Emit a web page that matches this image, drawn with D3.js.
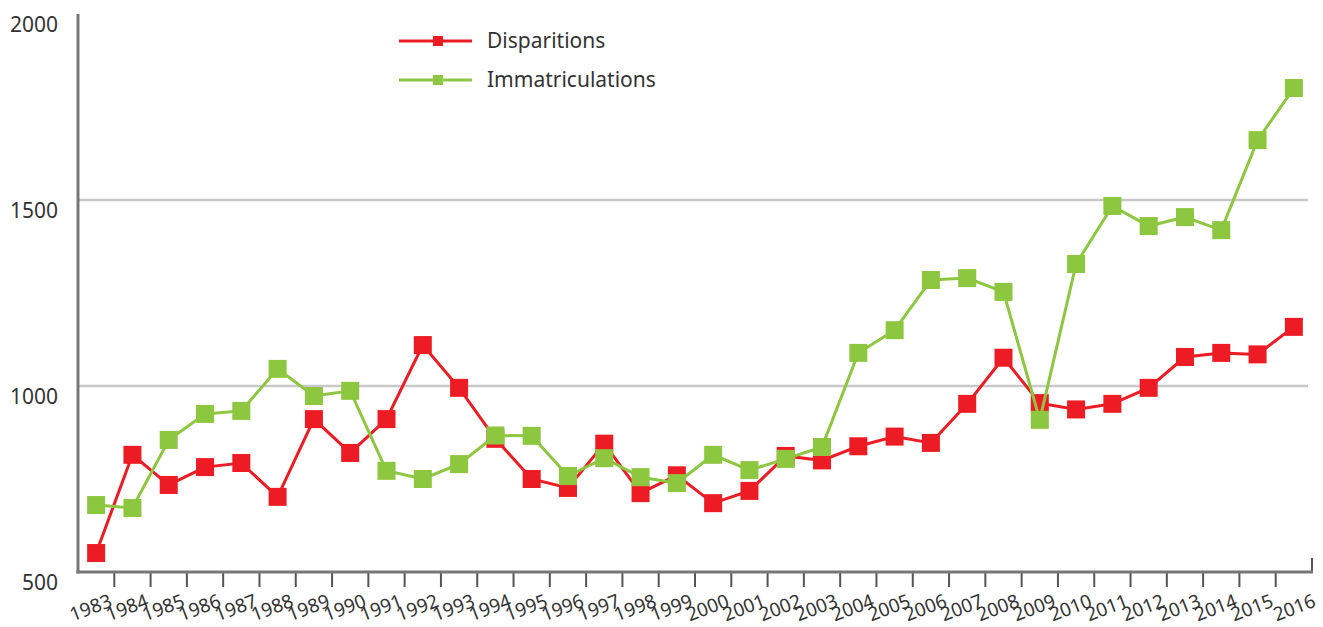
<!DOCTYPE html>
<html>
<head>
<meta charset="utf-8">
<script src="https://cdn.jsdelivr.net/npm/d3@7"></script>
<style>
  body { margin: 0; background: #fff; }
  svg { display: block; font-family: "Noto Sans", "Open Sans", sans-serif; }
</style>
</head>
<body>
<div id="chart-container"></div>
<script>
// Years on the x axis
const years = d3.range(1983, 2017).map(String);

// Series values
const disparitions = [551, 815, 734, 782, 793, 702, 911, 820, 911, 1110, 995, 858, 750, 726, 845, 712, 760, 685, 718, 812, 800, 838, 864, 847, 952, 1076, 954, 937, 952, 995, 1078, 1089, 1085, 1159];
const immatriculations = [680, 672, 855, 925, 933, 1046, 973, 987, 772, 750, 790, 867, 866, 758, 806, 755, 739, 815, 774, 804, 836, 1089, 1150, 1285, 1290, 1253, 909, 1328, 1484, 1430, 1454, 1419, 1661, 1801];

const yTicks = [500, 1000, 1500, 2000];
const gridValues = [1000, 1500];

const seriesNames = ["Disparitions", "Immatriculations"];
const seriesColors = ["#ed1c24", "#8dc63f"];

const W = 1323, H = 627;
const margin = { left: 78, right: 1312, top: 14, bottom: 572 };

const svg = d3.select("#chart-container")
  .append("svg")
  .attr("width", W)
  .attr("height", H);

const x = d3.scaleBand()
  .domain(years)
  .range([margin.left, margin.right]);

const y = d3.scaleLinear()
  .domain([500, 2000])
  .range([margin.bottom, margin.top]);

// Horizontal gridlines
svg.selectAll(".grid")
  .data(gridValues)
  .join("line")
  .attr("x1", margin.left)
  .attr("x2", margin.right - 4)
  .attr("y1", d => y(d))
  .attr("y2", d => y(d))
  .attr("stroke", "#c8c8c8")
  .attr("stroke-width", 2.5);

// Y axis labels (sit a little below their value)
svg.selectAll(".ylab")
  .data(yTicks)
  .join("text")
  .attr("x", 58)
  .attr("y", d => y(d) + 18)
  .attr("text-anchor", "end")
  .attr("font-size", 21)
  .attr("fill", "#333")
  .text(d => d);

// Ticks sit on the band boundaries
const tickYears = years.slice(0, -1);
svg.selectAll(".xtick")
  .data(tickYears)
  .join("line")
  .attr("x1", d => x(d) + x.bandwidth())
  .attr("x2", d => x(d) + x.bandwidth())
  .attr("y1", margin.bottom)
  .attr("y2", margin.bottom + 15)
  .attr("stroke", "#555")
  .attr("stroke-width", 2);

// closing tick at the right end, pointing up
svg.append("line")
  .attr("x1", margin.right)
  .attr("x2", margin.right)
  .attr("y1", margin.bottom - 14)
  .attr("y2", margin.bottom + 1)
  .attr("stroke", "#555")
  .attr("stroke-width", 2);

// x labels, rotated, ending at the right boundary of each band
svg.selectAll(".xlab")
  .data(years)
  .join("text")
  .attr("text-anchor", "end")
  .attr("font-size", 19)
  .attr("fill", "#333")
  .attr("transform", (d, i) => {
    const xe = i === years.length - 1 ? margin.right + 5 : x(d) + x.bandwidth() - 1;
    return `translate(${xe},${margin.bottom + 34}) rotate(-21)`;
  })
  .text(d => d);

// axis lines
svg.append("line")
  .attr("x1", margin.left).attr("x2", margin.left)
  .attr("y1", margin.top).attr("y2", margin.bottom + 1.5)
  .attr("stroke", "#777").attr("stroke-width", 3);
svg.append("line")
  .attr("x1", margin.left - 1.5).attr("x2", margin.right + 1)
  .attr("y1", margin.bottom).attr("y2", margin.bottom)
  .attr("stroke", "#777").attr("stroke-width", 3);

const cx = d => x(d) + x.bandwidth() / 2;
const line = d3.line()
  .x(d => cx(d.year))
  .y(d => y(d.value));

const series = [disparitions, immatriculations].map((vals, i) => ({
  name: seriesNames[i],
  color: seriesColors[i],
  values: vals.map((v, j) => ({ year: years[j], value: v }))
}));

const ms = 18;
series.forEach(s => {
  svg.append("path")
    .datum(s.values)
    .attr("fill", "none")
    .attr("stroke", s.color)
    .attr("stroke-width", 3)
    .attr("d", line);

  svg.selectAll(null)
    .data(s.values)
    .join("rect")
    .attr("x", d => cx(d.year) - ms / 2)
    .attr("y", d => y(d.value) - ms / 2)
    .attr("width", ms)
    .attr("height", ms)
    .attr("fill", s.color);
});

// Legend
const legend = svg.append("g").attr("transform", "translate(399,41)");
series.forEach((s, i) => {
  const g = legend.append("g").attr("transform", `translate(0,${i * 39})`);
  g.append("line")
    .attr("x1", 0).attr("x2", 73)
    .attr("y1", 0).attr("y2", 0)
    .attr("stroke", s.color)
    .attr("stroke-width", 3);
  g.append("rect")
    .attr("x", 34).attr("y", -5)
    .attr("width", 10).attr("height", 10)
    .attr("fill", s.color);
  g.append("text")
    .attr("x", 88)
    .attr("y", 7)
    .attr("font-size", 21)
    .attr("fill", "#333")
    .text(s.name);
});
</script>
</body>
</html>
